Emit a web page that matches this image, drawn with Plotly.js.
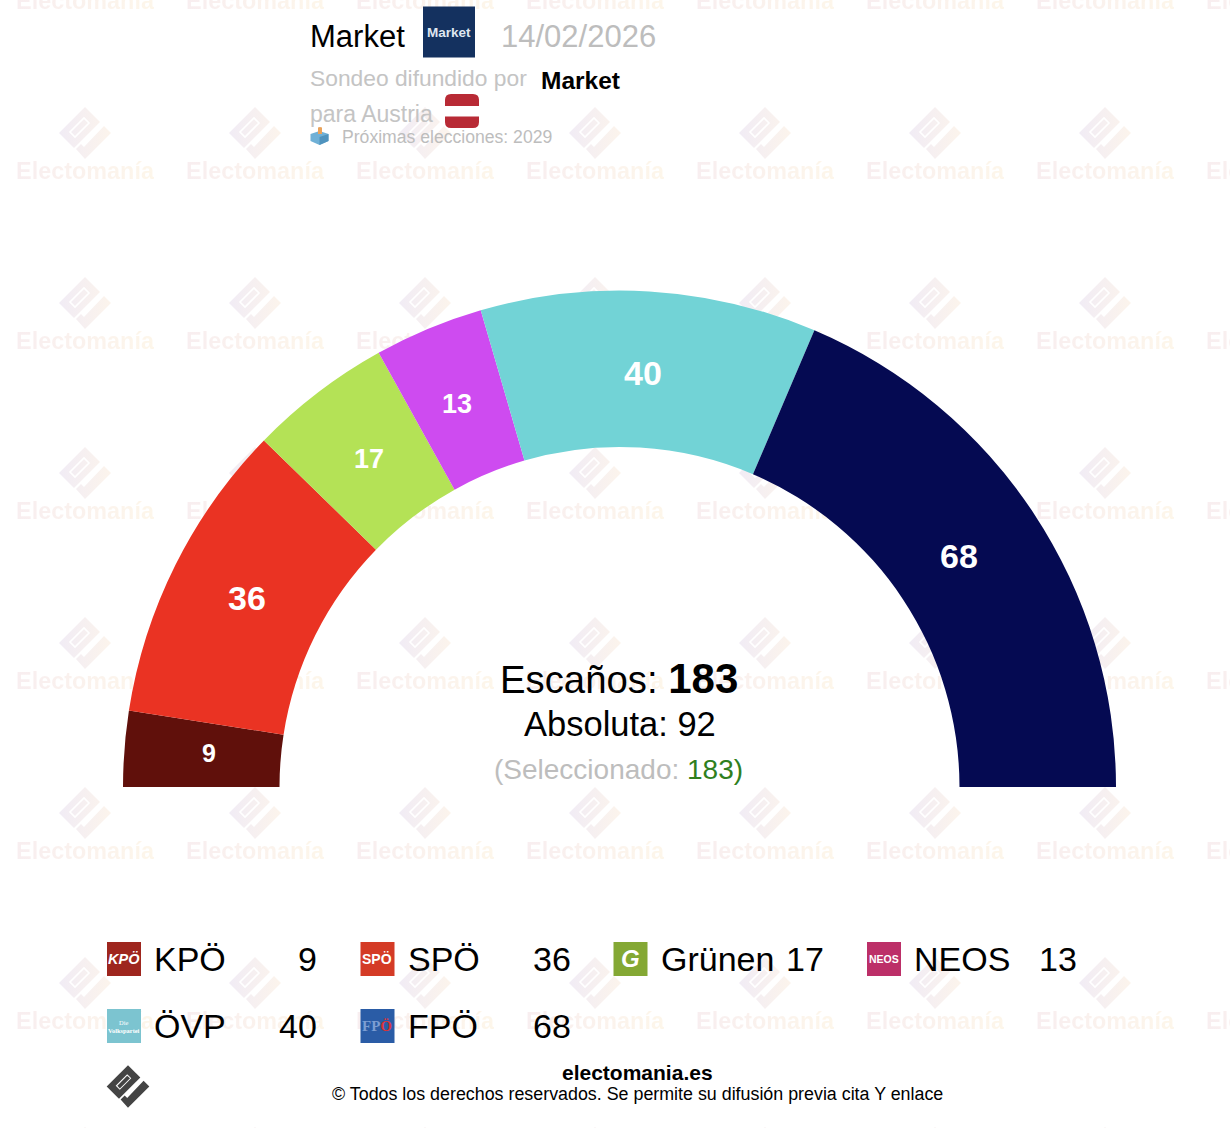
<!DOCTYPE html>
<html><head><meta charset="utf-8">
<script src="https://cdn.plot.ly/plotly-3.0.1.min.js"></script>
<style>
html,body{margin:0;padding:0;width:1230px;height:1128px;overflow:hidden;background:#fff}
#wm{position:absolute;left:0;top:0;width:1230px;height:1128px;overflow:hidden;z-index:0}
#wm span{position:absolute;width:170px;text-align:center;font:bold 23.4px "Liberation Sans",sans-serif;line-height:26px;white-space:nowrap}
#wm span b{background:linear-gradient(90deg,#f8eef0,#fdf6ea);-webkit-background-clip:text;background-clip:text;color:transparent}
#wm svg{position:absolute}
#chart{position:absolute;left:0;top:0;z-index:1}
</style></head><body>
<div id="wm"></div><div id="chart"></div>
<script>
const parties = ["KPÖ","SPÖ","Grünen","NEOS","ÖVP","FPÖ"];
const seats = [9,36,17,13,40,68];
const sliceColors = ["#60100B","#EA3323","#B4E256","#CE4BF0","#72D3D6","#050A52"];
const iconColors = ["#9E261E","#D43B26","#84A834","#BC2F68","#7CC4D0","#2A5CA6"];
const S = "Liberation Serif";
const iconTexts = [
  "<b><i>KPÖ</i></b>", "<b>SPÖ</b>", "<b><i>G</i></b>", "<b>NEOS</b>",
  `<span style="font-family:${S}">Die<br><b>Volkspartei</b></span>`,
  `<b style="font-family:${S}"><span style="color:#7c9ed2">FP</span><span style="color:#d8343a">Ö</span></b>`
];
const iconSizes = [14.5,14,24,10.5,6.4,15];
const labelSizes = [25,34,27,27,34,34];
const labelNudgeX = [6,1,3,-2,-2,-9], labelNudgeY = [-2,-2,4,2,3,-1];
const totalSeats = 183, majority = 92, selected = 183;
const FONT = '"Liberation Sans",Arial,sans-serif';
const W = 1230, H = 1300;
const CX = 619.5, CY = 787, R_OUT = 496.5, R_IN = 340;
const px = x => x / W, py = y => 1 - y / H;

// watermark, behind a transparent plot
const LOGO_MAIN = "0,-26 15,-11 -11,15 -26,0", LOGO_SLOT = "4,-10 -1,-15 -15,-1 -10,4",
      LOGO_CHECK = "19,-7 26,0 0,26 -9,16 -4,11 -1,14";
let wm = "";
for (let r = 0; r < 8; r++) for (let c = 0; c < 8; c++) {
  const x = 85 + c * 170, y = 133 + (r - 1) * 170;
  wm += `<svg style="left:${x-26}px;top:${y-26}px" width="52" height="52" viewBox="-26 -26 52 52">
  <defs><linearGradient id="g${r}${c}" gradientUnits="userSpaceOnUse" x1="-26" x2="26" y1="0" y2="0"><stop offset="0" stop-color="#f1ecf5"/><stop offset="1" stop-color="#fcf4ec"/></linearGradient></defs>
  <polygon points="${LOGO_MAIN}" fill="url(#g${r}${c})"/><polygon points="${LOGO_SLOT}" fill="none" stroke="#fff" stroke-width="1.6"/>
  <polygon points="${LOGO_CHECK}" fill="url(#g${r}${c})"/></svg>`;
  wm += `<span style="left:${x-85}px;top:${y+25}px"><b>Electomanía</b></span>`;
}
document.getElementById("wm").innerHTML = wm;

const ann = (text, x, y, size, o = {}) => Object.assign({
  text, x: px(x), y: py(y), xref: "paper", yref: "paper", showarrow: false,
  xanchor: "left", yanchor: "middle", align: "left",
  font: { family: FONT, size, color: "#000" }, borderpad: 0
}, o, o.color ? { font: { family: FONT, size, color: o.color } } : {});
const rect = (x0, y0, x1, y1, fill) => ({ type: "rect", xref: "paper", yref: "paper",
  x0: px(x0), x1: px(x1), y0: py(y1), y1: py(y0), fillcolor: fill, line: { width: 0 } });
const path = (pts, fill) => ({ type: "path", xref: "paper", yref: "paper", fillcolor: fill, line: { width: 0 },
  path: "M" + pts.map(p => px(p[0]) + "," + py(p[1])).join("L") + "Z" });

const annotations = [], shapes = [];
// header
annotations.push(ann("Market", 309, 36.5, 31));
annotations.push(ann("14/02/2026", 500, 36.5, 31, { color: "#bdbdbd" }));
shapes.push(rect(423, 6.5, 475, 57.5, "#14315F"));
annotations.push(ann("<b>Market</b>", 449, 33, 13.5, { color: "#dfe6ef", xanchor: "center" }));
annotations.push(ann("Sondeo difundido por", 309, 78.5, 22.8, { color: "#c4c4c4" }));
annotations.push(ann("<b>Market</b>", 540, 80, 24.5));
annotations.push(ann("para Austria", 309, 113.5, 23, { color: "#c4c4c4" }));
// Austria flag
shapes.push({ type: "path", xref: "paper", yref: "paper", fillcolor: "#B82A35", line: { width: 0 },
  path: `M${px(445)},${py(106)}L${px(445)},${py(100)}Q${px(445)},${py(94)} ${px(451)},${py(94)}L${px(473)},${py(94)}Q${px(479)},${py(94)} ${px(479)},${py(100)}L${px(479)},${py(106)}Z` });
shapes.push({ type: "path", xref: "paper", yref: "paper", fillcolor: "#B82A35", line: { width: 0 },
  path: `M${px(445)},${py(116.5)}L${px(445)},${py(122)}Q${px(445)},${py(128)} ${px(451)},${py(128)}L${px(473)},${py(128)}Q${px(479)},${py(128)} ${px(479)},${py(122)}L${px(479)},${py(116.5)}Z` });
// ballot box
shapes.push(path([[319.5,131],[328.5,134],[328.5,141],[319.5,145],[310.5,141],[310.5,134]], "#6FB0D6"));
shapes.push(path([[319.5,137],[328.5,134],[328.5,141],[319.5,145]], "#4F93BE"));
shapes.push(path([[318,127.5],[320,127],[322,127.5],[322,134],[318,134]], "#E9A25A"));
annotations.push(ann("Próximas elecciones: 2029", 341, 137.5, 17.6, { color: "#bdbdbd" }));
// centre
annotations.push(ann("Escaños: <b style='font-size:42px'>" + totalSeats + "</b>", 619, 678, 38.3, { xanchor: "center" }));
annotations.push(ann("Absoluta: " + majority, 620, 724, 34.5, { xanchor: "center" }));
annotations.push(ann("(Seleccionado: <span style='color:#2F7F1E'>" + selected + ")</span>", 618.5, 769, 28, { xanchor: "center", color: "#bdbdbd" }));
// legend
const colIcon = [107, 360.5, 613.5, 867], colLabel = [153, 407, 660, 913], colVal = [318, 572, 825, 1078], rowY = [959, 1026];
parties.forEach((p, i) => {
  const c = i % 4, r = Math.floor(i / 4), y = rowY[r];
  shapes.push(rect(colIcon[c], y - 17, colIcon[c] + 34, y + 17, iconColors[i]));
  annotations.push(ann(iconTexts[i], colIcon[c] + 17, y, iconSizes[i], { color: "#fff", xanchor: "center", align: "center" }));
  annotations.push(ann(p, colLabel[c], y, 34));
  annotations.push(ann(String(seats[i]), colVal[c], y, 34, { xanchor: "right", align: "right" }));
});
// footer logo
const lg = a => a.map(q => [128 + q[0] * 0.82, 1086.5 + q[1] * 0.82]);
shapes.push(path(lg([[0,-26],[15,-11],[-11,15],[-26,0]]), "#444"));
shapes.push(path(lg([[4,-10],[-1,-15],[-15,-1],[-10,4]]), "#fff"));
shapes.push(path(lg([[2.5,-10],[-1,-13],[-13,-1],[-10,2.5]]), "#444"));
shapes.push(path(lg([[19,-7],[26,0],[0,26],[-9,16],[-4,11],[-1,14]]), "#444"));
annotations.push(ann("<b>electomania.es</b>", 637.5, 1072, 21, { xanchor: "center" }));
annotations.push(ann("© Todos los derechos reservados. Se permite su difusión previa cita Y enlace", 637, 1094, 17.85, { xanchor: "center" }));

// seat labels: placed at each slice's mid-angle, from the seat counts
const R_MID = 417.5;
let cum = 0;
seats.forEach((s, i) => {
  const a = (cum + s / 2) / totalSeats * Math.PI; cum += s;
  annotations.push(ann("<b>" + s + "</b>",
    CX - R_MID * Math.cos(a) + labelNudgeX[i], CY - R_MID * Math.sin(a) + labelNudgeY[i],
    labelSizes[i], { color: "#fff", xanchor: "center", align: "center" }));
});

const trace = {
  type: "pie",
  labels: parties.concat(["hidden"]),
  values: seats.concat([totalSeats]),
  textinfo: "none",
  marker: { colors: sliceColors.concat(["rgba(0,0,0,0)"]), line: { width: 0 } },
  sort: false, direction: "clockwise", rotation: 270,
  hole: R_IN / R_OUT,
  domain: { x: [px(CX - R_OUT), px(CX + R_OUT)], y: [py(CY + R_OUT), py(CY - R_OUT)] },
  showlegend: false, hoverinfo: "skip"
};
Plotly.newPlot("chart", [trace], {
  width: W, height: H, margin: { l: 0, r: 0, t: 0, b: 0 },
  paper_bgcolor: "rgba(0,0,0,0)", plot_bgcolor: "rgba(0,0,0,0)",
  showlegend: false, annotations, shapes
}, { displayModeBar: false, staticPlot: true });
</script></body></html>
